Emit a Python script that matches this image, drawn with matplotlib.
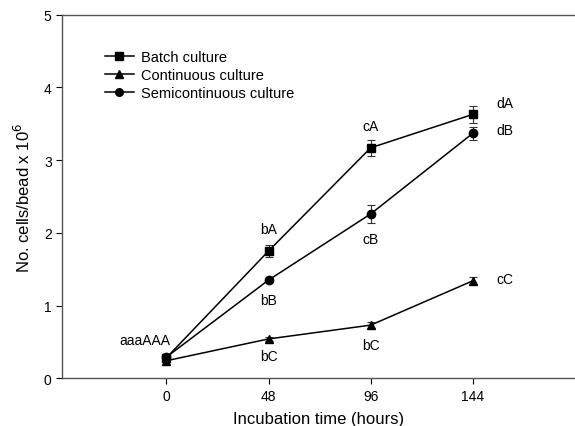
import matplotlib
matplotlib.use("Agg")
import matplotlib.pyplot as plt
from matplotlib.lines import Line2D

plt.rcParams["font.family"] = ["Liberation Sans", "DejaVu Sans"]

# incubation time (hours)
hours = [0, 48, 96, 144]

batch = [0.28, 1.75, 3.17, 3.63]
batch_err = [0.03, 0.08, 0.11, 0.12]

continuous = [0.24, 0.54, 0.73, 1.34]
continuous_err = [0.02, 0.03, 0.04, 0.05]

semicont = [0.29, 1.35, 2.26, 3.37]
semicont_err = [0.02, 0.03, 0.12, 0.09]

series = [
    ("Batch culture", batch, batch_err, "s"),
    ("Continuous culture", continuous, continuous_err, "^"),
    ("Semicontinuous culture", semicont, semicont_err, "o"),
]

# significance letters: (text, x, y)
letters = [
    ("aaaAAA", -10, 0.53),
    ("bA", 48, 2.05), ("bB", 48, 1.07), ("bC", 48, 0.31),
    ("cA", 96, 3.47), ("cB", 96, 1.92), ("bC", 96, 0.46),
    ("dA", 159, 3.79), ("dB", 159, 3.42), ("cC", 159, 1.36),
]

fig = plt.figure(figsize=(5.75, 4.27), dpi=100)
ax = fig.add_axes([0.108, 0.112, 0.892, 0.851])

handles = []
for name, vals, err, mk in series:
    ax.errorbar(hours, vals, yerr=err, marker=mk, color="black", linewidth=1.1,
                markersize=6, capsize=3, elinewidth=0.8, ecolor="#333333",
                capthick=0.8)
    handles.append(Line2D([], [], color="black", linewidth=1.1, marker=mk,
                          markersize=5.5, label=name))

for txt, x, y in letters:
    ax.text(x, y, txt, ha="center", va="center", fontsize=10)

ax.set_xlim(-49, 192)
ax.set_ylim(0, 5)
ax.set_xticks(hours)
ax.set_yticks([0, 1, 2, 3, 4, 5])
ax.spines["right"].set_visible(False)
for s in ["left", "bottom", "top"]:
    ax.spines[s].set_color("#555555")
    ax.spines[s].set_linewidth(1.0)
ax.tick_params(direction="out", length=4, labelsize=10, colors="black")

ax.set_xlabel("Incubation time (hours)", fontsize=12, labelpad=6)
ax.set_ylabel(r"No. cells/bead x 10$^6$", fontsize=12, labelpad=8)

ax.legend(handles=handles, loc="upper left", bbox_to_anchor=(0.072, 0.92),
          frameon=False, fontsize=10.5, handlelength=2.0, handletextpad=0.5,
          labelspacing=0.3, borderaxespad=0)

fig.savefig("out.png", dpi=100)
